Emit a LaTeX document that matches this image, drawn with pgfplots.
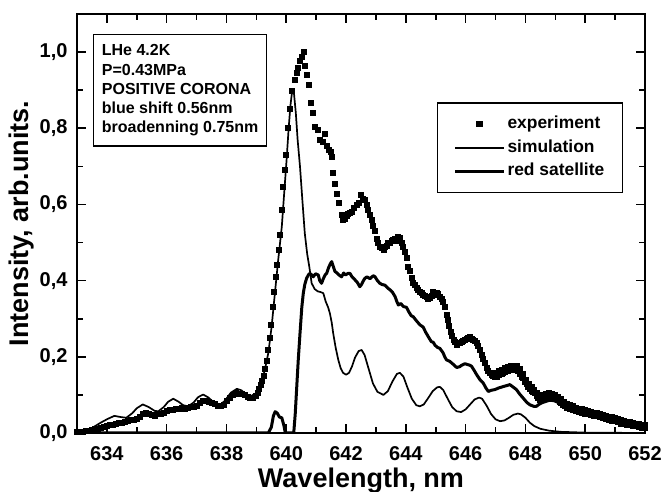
\documentclass[border=0pt]{standalone}
\usepackage{pgfplots}
\pgfplotsset{compat=1.18}
\usepackage{fontspec}
\setmainfont{Liberation Sans}
\begin{document}
\begin{tikzpicture}[font=\bfseries]
\begin{axis}[
  scale only axis, width=284pt, height=209.5pt,
  xmin=633, xmax=652, ymin=0, ymax=1.1,
  xtick={634,636,638,640,642,644,646,648,650,652}, minor x tick num=1,
  ytick={0,0.2,0.4,0.6,0.8,1.0}, minor y tick num=1,
  tick align=inside,
  major tick length=4.5pt, minor tick length=3pt,
  axis line style={line width=1pt},
  every tick/.style={line width=0.8pt, black},
  /pgf/number format/assume math mode=true,
  tick label style={font=\fontsize{10}{12}\selectfont\bfseries},
  yticklabel style={/pgf/number format/.cd, use comma, fixed, fixed zerofill, precision=1, /tikz/.cd, xshift=-1.2pt},
  xticklabel style={/pgf/number format/.cd, 1000 sep={}, /tikz/.cd, yshift=-3pt},
  xlabel={Wavelength, nm}, ylabel={Intensity, arb.units.},
  label style={font=\fontsize{13.5}{15}\selectfont\bfseries},
  xlabel style={at={(axis description cs:0.5,-0.114)}, anchor=center},
  ylabel style={at={(axis description cs:-0.0968,0.5)}, anchor=center},
  legend style={at={(axis description cs:0.633,0.789)}, anchor=north west, draw=black, line width=0.6pt,
    inner xsep=8.2pt, inner ysep=4.8pt, row sep=0pt, column sep=0pt,
    font=\fontsize{8.7}{10}\selectfont\bfseries,
    nodes={inner xsep=1pt, inner ysep=1.6pt, text height=6.5pt, text depth=2pt}},
  legend cell align=left,
  legend image code/.code={\draw[mark repeat=2,mark phase=2,#1] plot coordinates {(0pt,0pt) (12.25pt,0pt) (24.5pt,0pt)};},
]
\coordinate (sw) at (rel axis cs:0,0);
\coordinate (ne) at (rel axis cs:1,1);
% experiment
\addplot[only marks, mark=square*, mark size=1.25pt, black] coordinates {
(633.0,0.002)(633.1,0.004)(633.2,0.003)(633.3,0.006)(633.4,0.005)(633.5,0.008)(633.6,0.010)(633.7,0.009)(633.8,0.013)(633.9,0.016)
(634.0,0.018)(634.1,0.022)(634.2,0.020)(634.3,0.024)(634.4,0.026)(634.5,0.027)(634.6,0.030)(634.7,0.031)(634.8,0.034)(634.9,0.034)
(635.0,0.038)(635.1,0.043)(635.2,0.050)(635.3,0.053)(635.4,0.050)(635.5,0.048)(635.6,0.046)(635.7,0.050)(635.8,0.050)(635.9,0.054)
(636.0,0.057)(636.1,0.060)(636.2,0.060)(636.3,0.064)(636.4,0.063)(636.5,0.066)(636.6,0.064)(636.7,0.066)(636.8,0.069)(636.9,0.068)
(637.0,0.072)(637.1,0.078)(637.2,0.085)(637.3,0.084)(637.4,0.082)(637.5,0.079)(637.6,0.076)(637.7,0.072)(637.8,0.070)(637.9,0.075)
(638.0,0.083)(638.1,0.092)(638.2,0.100)(638.3,0.104)(638.4,0.103)(638.5,0.103)(638.6,0.099)(638.7,0.095)(638.8,0.093)(638.9,0.091)
(639.0,0.098)(639.05,0.105)(639.1,0.115)(639.15,0.125)(639.2,0.136)(639.25,0.150)(639.3,0.168)(639.35,0.190)(639.4,0.218)(639.45,0.25)
(639.5,0.285)(639.55,0.33)(639.6,0.37)(639.65,0.41)(639.7,0.44)(639.75,0.48)(639.8,0.52)(639.85,0.585)(639.9,0.646)(639.95,0.69)
(640.0,0.73)(640.07,0.80)(640.12,0.85)(640.19,0.897)(640.29,0.926)(640.35,0.945)(640.40,0.959)(640.46,0.978)(640.51,0.987)(640.59,1.0)
(640.62,0.965)(640.70,0.939)(640.76,0.913)(640.82,0.866)(640.88,0.84)(640.96,0.803)(641.07,0.795)(641.13,0.769)(641.24,0.764)(641.29,0.784)
(641.35,0.755)(641.44,0.742)(641.49,0.738)(641.53,0.725)(641.57,0.683)(641.63,0.655)(641.68,0.629)(641.77,0.603)(641.85,0.572)(641.9,0.56)
(641.96,0.563)(642.02,0.57)(642.07,0.576)(642.13,0.578)(642.19,0.581)(642.27,0.59)(642.35,0.598)(642.43,0.605)(642.5,0.624)(642.56,0.615)
(642.63,0.611)(642.69,0.598)(642.74,0.585)(642.8,0.572)(642.85,0.559)(642.91,0.545)(642.97,0.53)(643.03,0.51)(643.08,0.498)(643.13,0.488)
(643.19,0.485)(643.25,0.48)(643.3,0.489)(643.36,0.492)(643.41,0.498)(643.47,0.50)(643.53,0.505)(643.58,0.507)(643.64,0.51)(643.7,0.505)
(643.75,0.514)(643.8,0.511)(643.86,0.50)(643.91,0.489)(643.97,0.475)(644.02,0.46)(644.08,0.437)(644.14,0.425)(644.19,0.406)(644.25,0.393)
(644.3,0.389)(644.36,0.38)(644.41,0.376)(644.47,0.37)(644.53,0.367)(644.58,0.362)(644.64,0.360)(644.69,0.357)(644.75,0.352)(644.81,0.354)
(644.86,0.36)(644.92,0.37)(644.97,0.362)(645.03,0.367)(645.08,0.365)(645.14,0.358)(645.2,0.352)(645.25,0.345)(645.3,0.33)(645.36,0.31)
(645.41,0.297)(645.45,0.28)(645.5,0.265)(645.55,0.255)(645.6,0.245)(645.65,0.238)(645.7,0.232)(645.76,0.236)(645.81,0.236)(645.87,0.24)
(645.92,0.243)(645.98,0.245)(646.03,0.247)(646.09,0.25)(646.14,0.252)(646.2,0.247)(646.25,0.245)(646.31,0.242)(646.37,0.236)(646.42,0.228)
(646.48,0.218)(646.54,0.205)(646.59,0.195)(646.65,0.183)(646.7,0.172)(646.76,0.163)(646.81,0.157)(646.87,0.153)(646.92,0.15)(646.98,0.148)
(647.03,0.148)(647.1,0.152)(647.15,0.154)(647.2,0.155)(647.26,0.157)(647.32,0.16)(647.4,0.163)(647.46,0.165)(647.54,0.166)(647.6,0.168)
(647.66,0.166)(647.72,0.165)(647.76,0.163)(647.82,0.155)(647.88,0.148)(647.92,0.144)(647.98,0.135)(648.04,0.128)(648.09,0.122)(648.15,0.115)
(648.2,0.11)(648.26,0.107)(648.32,0.105)(648.38,0.098)(648.43,0.092)(648.48,0.088)(648.54,0.09)(648.6,0.092)(648.65,0.092)(648.7,0.095)
(648.76,0.096)(648.82,0.095)(648.87,0.096)(648.93,0.093)(648.98,0.091)(649.04,0.089)(649.1,0.087)(649.15,0.082)(649.2,0.078)(649.26,0.074)
(649.32,0.07)(649.4,0.067)(649.5,0.064)(649.6,0.061)(649.7,0.058)(649.8,0.055)(649.9,0.053)(650.0,0.051)(650.1,0.049)(650.2,0.047)
(650.3,0.045)(650.4,0.044)(650.5,0.042)(650.6,0.04)(650.7,0.038)(650.8,0.035)(650.9,0.033)(651.0,0.031)(651.1,0.028)(651.2,0.025)
(651.3,0.024)(651.4,0.022)(651.5,0.021)(651.6,0.019)(651.7,0.018)(651.8,0.016)(651.9,0.014)(652.0,0.013)
};
\addlegendentry{experiment}
% experiment, upper edge of the noisy band in the red wing
\addplot[only marks, mark=square*, mark size=1.25pt, black, forget plot] coordinates {
(647.0,0.158)(647.1,0.162)(647.2,0.166)(647.3,0.17)(647.4,0.174)(647.5,0.176)(647.6,0.177)(647.7,0.175)(647.8,0.168)(647.9,0.155)
(648.0,0.14)(648.1,0.13)(648.2,0.12)(648.3,0.112)(648.4,0.105)(648.5,0.1)(648.6,0.1)(648.7,0.103)(648.8,0.104)(648.9,0.103)
(649.0,0.1)(649.1,0.096)(649.2,0.09)(649.3,0.082)(649.4,0.077)(649.5,0.073)(649.6,0.07)(649.7,0.067)(649.8,0.064)(649.9,0.062)
(650.0,0.06)(650.1,0.058)(650.2,0.055)(650.3,0.053)(650.4,0.052)(650.5,0.05)(650.6,0.048)(650.7,0.046)(650.8,0.043)(650.9,0.041)
(651.0,0.039)(651.1,0.037)(651.2,0.034)(651.3,0.032)(651.4,0.03)(651.5,0.029)(651.6,0.027)(651.7,0.025)(651.8,0.023)(651.9,0.021)(652.0,0.02)
};
% simulation
\addplot[black, line width=0.85pt, line join=round] coordinates {
(633.0,0.002)(633.3,0.007)(633.5,0.013)(633.77,0.026)(634.0,0.036)(634.25,0.045)(634.45,0.042)(634.65,0.040)(634.85,0.052)(635.0,0.065)
(635.2,0.075)(635.4,0.068)(635.6,0.058)(635.72,0.057)(635.9,0.068)(636.05,0.082)(636.22,0.090)(636.4,0.082)(636.55,0.073)(636.72,0.070)
(636.9,0.080)(637.05,0.094)(637.22,0.101)(637.4,0.093)(637.6,0.078)(637.78,0.073)(637.95,0.085)(638.15,0.106)(638.35,0.116)(638.5,0.112)
(638.65,0.102)(638.8,0.096)(639.0,0.105)(639.12,0.122)(639.23,0.148)(639.32,0.18)(639.4,0.21)(639.51,0.279)(639.62,0.367)(639.73,0.454)
(639.85,0.541)(639.93,0.629)(640.01,0.716)(640.08,0.80)(640.14,0.86)(640.2,0.9)(640.26,0.89)(640.32,0.84)(640.38,0.77)(640.46,0.699)
(640.54,0.61)(640.62,0.524)(640.7,0.47)(640.77,0.437)(640.85,0.393)(640.95,0.378)(641.05,0.372)(641.15,0.370)(641.24,0.367)(641.32,0.345)
(641.4,0.33)(641.46,0.314)(641.52,0.29)(641.57,0.262)(641.65,0.225)(641.74,0.192)(641.82,0.17)(641.9,0.158)(642.0,0.153)(642.1,0.158)
(642.2,0.175)(642.3,0.198)(642.42,0.215)(642.52,0.218)(642.62,0.205)(642.75,0.17)(642.9,0.13)(643.05,0.108)(643.25,0.10)(643.4,0.11)
(643.55,0.135)(643.7,0.155)(643.8,0.158)(643.92,0.148)(644.05,0.12)(644.2,0.09)(644.35,0.073)(644.47,0.07)(644.6,0.075)(644.75,0.092)
(644.9,0.11)(645.05,0.12)(645.14,0.121)(645.25,0.113)(645.4,0.09)(645.55,0.068)(645.7,0.057)(645.85,0.055)(646.0,0.062)(646.15,0.075)
(646.3,0.088)(646.45,0.093)(646.55,0.09)(646.7,0.072)(646.85,0.05)(647.0,0.036)(647.15,0.031)(647.3,0.033)(647.45,0.04)(647.6,0.048)
(647.75,0.051)(647.85,0.049)(648.0,0.04)(648.15,0.027)(648.3,0.018)(648.5,0.011)(648.8,0.006)(649.2,0.003)(650.0,0.001)(652.0,0.0)
};
\addlegendentry{simulation}
% red satellite
\addplot[black, line width=1.5pt, line join=round] coordinates {
(633.0,0)(639.4,0)(639.5,0.015)(639.57,0.045)(639.63,0.056)(639.7,0.052)(639.77,0.042)(639.85,0.040)(639.92,0.02)(639.97,0)
(640.25,0)(640.3,0.05)(640.35,0.12)(640.4,0.19)(640.46,0.262)(640.52,0.33)(640.57,0.367)(640.62,0.39)(640.68,0.406)(640.74,0.415)
(640.79,0.419)(640.85,0.415)(640.9,0.41)(640.98,0.418)(641.07,0.415)(641.12,0.40)(641.18,0.393)(641.24,0.405)(641.3,0.415)(641.35,0.419)
(641.42,0.435)(641.48,0.445)(641.52,0.45)(641.57,0.438)(641.63,0.424)(641.7,0.42)(641.76,0.415)(641.85,0.41)(641.92,0.42)(641.98,0.415)
(642.07,0.419)(642.13,0.419)(642.2,0.41)(642.3,0.402)(642.38,0.395)(642.46,0.384)(642.52,0.39)(642.58,0.40)(642.63,0.406)(642.7,0.41)
(642.8,0.405)(642.91,0.413)(642.97,0.41)(643.05,0.40)(643.13,0.393)(643.2,0.39)(643.3,0.388)(643.4,0.38)(643.47,0.376)(643.55,0.37)
(643.64,0.358)(643.7,0.345)(643.75,0.336)(643.83,0.34)(643.92,0.332)(644.02,0.33)(644.1,0.318)(644.18,0.308)(644.25,0.305)(644.35,0.295)
(644.47,0.284)(644.58,0.278)(644.66,0.265)(644.75,0.253)(644.85,0.24)(644.92,0.238)(644.97,0.231)(645.05,0.225)(645.14,0.222)(645.25,0.21)
(645.3,0.2)(645.36,0.192)(645.47,0.188)(645.59,0.18)(645.7,0.172)(645.8,0.174)(645.87,0.178)(645.98,0.182)(646.05,0.18)(646.14,0.178)
(646.2,0.175)(646.28,0.165)(646.37,0.153)(646.48,0.14)(646.59,0.131)(646.68,0.118)(646.76,0.109)(646.85,0.112)(646.98,0.114)(647.1,0.118)
(647.26,0.122)(647.4,0.125)(647.48,0.127)(647.6,0.12)(647.7,0.114)(647.8,0.103)(647.92,0.092)(648.05,0.08)(648.15,0.074)(648.28,0.07)
(648.37,0.07)(648.45,0.075)(648.54,0.079)(648.65,0.082)(648.8,0.086)(648.95,0.085)(649.1,0.08)(649.3,0.07)(649.6,0.06)(650.0,0.05)
(650.5,0.04)(651.0,0.031)(651.5,0.022)(652.0,0.014)
};
\addlegendentry{red satellite}
\node[draw=black, line width=0.6pt, anchor=north west, align=left, inner xsep=4.2pt, inner ysep=5pt,
  font=\fontsize{8}{9.6}\selectfont\bfseries] at (rel axis cs:0.028,0.952)
  {LHe 4.2K\\P=0.43MPa\\POSITIVE CORONA\\blue shift 0.56nm\\broadenning 0.75nm};
\end{axis}
\pgfresetboundingbox
\path[use as bounding box] ([shift={(-38.5pt,-29.5pt)}]sw) rectangle ([shift={(10pt,7pt)}]ne);
\end{tikzpicture}
\end{document}
